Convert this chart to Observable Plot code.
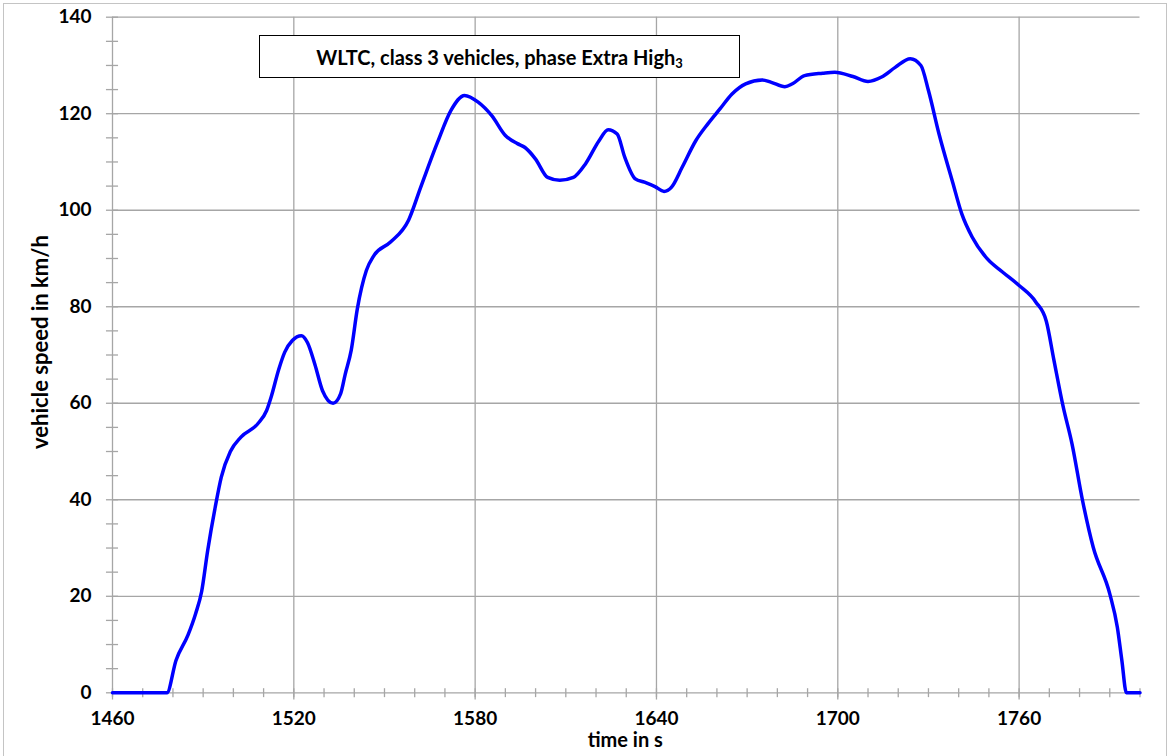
<!DOCTYPE html>
<html>
<head>
<meta charset="utf-8">
<script src="https://cdn.jsdelivr.net/npm/d3@7"></script>
<script src="https://cdn.jsdelivr.net/npm/@observablehq/plot@0.6"></script>
<style>
  html, body { margin: 0; padding: 0; background: #fff; }
  #wrap { position: relative; width: 1171px; height: 756px; overflow: hidden; font-family: "Lato", sans-serif; }
  #border { position: absolute; left: 3px; top: 3px; width: 1162px; height: 770px; border: 1px solid #c4c4c4; pointer-events: none; }
  #title { position: absolute; left: 259px; top: 35px; width: 479px; height: 41px; border: 1px solid #000; background: #fff;
           display: flex; align-items: center; justify-content: center; font-weight: bold; font-size: 20px; color: #000; }
  #title sub { font-size: 13px; position: relative; top: 6px; vertical-align: baseline; line-height: 0; }
</style>
</head>
<body>
<div id="wrap">
  <div id="chart"></div>
  <div id="border"></div>
  <div id="title">WLTC, class 3 vehicles, phase Extra High<sub>3</sub></div>
</div>
<script>
// time in s
const time = [1460,1477,1478,1481,1485,1487.5,1489.5,1491.5,1494,1496,1499,1502.5,1508,1511,1512.5,1515,1517,1519.5,1522.5,1524.5,1527,1529.5,1533,1535.5,1537,1539,1541,1544,1546.5,1552,1558,1562,1567.5,1572,1576.5,1581,1585.5,1590,1594,1596.5,1600,1604,1608,1612.5,1616.5,1621,1624,1627,1629.5,1633,1636,1639.5,1642.5,1645,1648.5,1653,1657,1661,1665,1669.5,1675,1678,1682.5,1685,1689,1695,1699,1705,1710,1714.5,1719,1724,1727.5,1730,1733.5,1738,1741,1744.5,1749.5,1754.5,1760,1765.5,1769,1771.5,1774.5,1777.5,1781,1784.5,1790,1792.5,1794,1795.5,1800];
// vehicle speed in km/h
const speed = [0,0,0,6.7,12,16.4,21,29.5,38.5,44.7,50,53,55.7,58.5,61.3,67,70.6,73,74,72.6,68,62.6,60,62,66,71,79.5,87.5,90.6,93.4,98,104.8,114,120.7,123.8,122.4,119.6,115.5,113.8,113,110.6,106.8,106.2,106.8,109.6,114.4,116.7,115.8,111,106.5,105.8,104.9,103.9,104.8,108.9,114.4,117.9,121,124.1,126.2,127,126.5,125.6,126.2,127.9,128.4,128.6,127.7,126.7,127.6,129.6,131.4,130,124.8,115.8,105.8,99.3,94.4,89.9,87.2,84.4,81,77,69,59.5,51.6,39.8,30.2,20.5,13.6,6.7,0,0];

const xMajor = [1460,1520,1580,1640,1700,1760];
const xMinor = d3.range(1460, 1801, 10);
const yMajor = [0,20,40,60,80,100,120,140];
const yMinor = d3.range(0, 141, 5);
const xTitle = "time in s";
const yTitle = "vehicle speed in km/h";

const data = time.map((t, i) => ({t, v: speed[i]}));
const grid = "#a6a6a6";

const chart = Plot.plot({
  width: 1171,
  height: 756,
  marginLeft: 112,
  marginRight: 31.5,
  marginTop: 16.7,
  marginBottom: 63.7,
  x: {domain: [1460, 1800]},
  y: {domain: [0, 140]},
  style: {fontFamily: "Lato, sans-serif", fontWeight: "bold", fontSize: "19px", color: "#000", background: "transparent"},
  marks: [
    Plot.ruleY(yMajor, {stroke: grid, strokeWidth: 1.3}),
    Plot.ruleX(xMajor, {stroke: grid, strokeWidth: 1.3}),
    Plot.ruleX(xMinor, {x: d => d, y1: -1.0, y2: 0.85, stroke: grid, strokeWidth: 1.3}),
    Plot.ruleX(xMajor, {x: d => d, y1: -1.5, y2: 0, stroke: grid, strokeWidth: 1.3}),
    Plot.ruleY(yMinor, {y: d => d, x1: 1458, x2: 1462, stroke: grid, strokeWidth: 1.3}),
    Plot.line(data, {x: "t", y: "v", stroke: "#0000ff", strokeWidth: 3.5, curve: "monotone-x"}),
    Plot.axisX(xMajor, {tickSize: 0, tickPadding: 19, fontSize: 19, fontWeight: "bold", label: null, tickFormat: d => String(d)}),
    Plot.axisY(yMajor, {tickSize: 0, tickPadding: 21, fontSize: 19, fontWeight: "bold", label: null}),
    Plot.text([xTitle], {text: d => d, frameAnchor: "bottom", dy: 54, dx: -1, fontSize: 20, fontWeight: "bold", fill: "#000"}),
    Plot.text([yTitle], {text: d => d, frameAnchor: "left", textAnchor: "middle", rotate: -90, dx: -72, dy: -13, fontSize: 22, fontWeight: "bold", fill: "#000"})
  ]
});
document.getElementById("chart").appendChild(chart);
</script>
</body>
</html>
